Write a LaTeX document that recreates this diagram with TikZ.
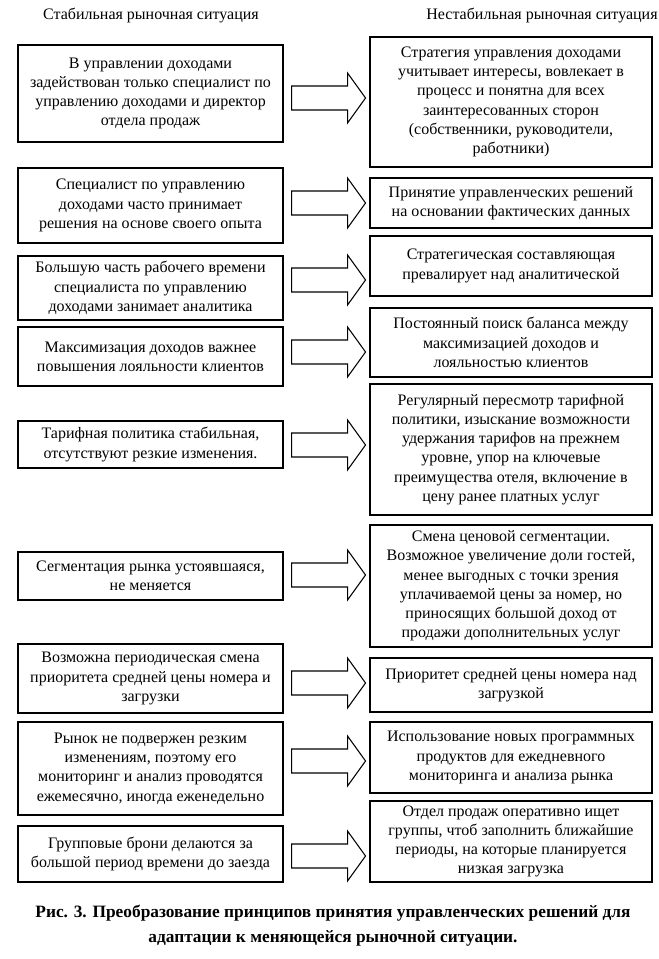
\documentclass[tikz,border=0pt]{standalone}
\usepackage{fontspec}
\setmainfont{Liberation Serif}
\usepackage{tikz}
\usetikzlibrary{calc}
\tikzset{
  lbox/.style={rectangle, draw=black, line width=0.8pt, align=center,
    minimum width=198.75pt, inner sep=2pt, font=\fontsize{12pt}{14.4pt}\selectfont},
  rbox/.style={lbox, minimum width=211.5pt},
  head/.style={font=\fontsize{12pt}{14.4pt}\selectfont},
  blockarrow/.style={draw=black, line width=0.8pt, line join=miter}
}
\begin{document}
\begin{tikzpicture}[x=0.75pt, y=-0.75pt]
  \useasboundingbox (0,0) rectangle (658,959);

  % column titles
  \node[head] (hl) at (151,16) {Стабильная рыночная ситуация};
  \node[head] (hr) at (542,16) {Нестабильная рыночная ситуация};

  % stable market
  \node[lbox, minimum height=72.75pt] (l1) at (150.5,93.5) {В управлении доходами\\задействован только специалист по\\управлению доходами и директор\\отдела продаж};
  \node[lbox, minimum height=56.25pt] (l2) at (150.5,205.5) {Специалист по управлению\\доходами часто принимает\\решения на основе своего опыта};
  \node[lbox, minimum height=48pt] (l3) at (150.5,288) {Большую часть рабочего времени\\специалиста по управлению\\доходами занимает аналитика};
  \node[lbox, minimum height=44.25pt] (l4) at (150.5,356.5) {Максимизация доходов важнее\\повышения лояльности клиентов};
  \node[lbox, minimum height=35.25pt] (l5) at (150.5,444.5) {Тарифная политика стабильная,\\отсутствуют резкие изменения.};
  \node[lbox, minimum height=36pt] (l6) at (150.5,576) {Сегментация рынка устоявшаяся,\\не меняется};
  \node[lbox, minimum height=51.75pt] (l7) at (150.5,678.5) {Возможна периодическая смена\\приоритета средней цены номера и\\загрузки};
  \node[lbox, minimum height=69.75pt] (l8) at (150.5,768.5) {Рынок не подвержен резким\\изменениям, поэтому его\\мониторинг и анализ проводятся\\ежемесячно, иногда еженедельно};
  \node[lbox, minimum height=42pt] (l9) at (150.5,854) {Групповые брони делаются за\\большой период времени до заезда};

  % unstable market
  \node[rbox, minimum height=97.5pt] (r1) at (511,102) {Стратегия управления доходами\\учитывает интересы, вовлекает в\\процесс и понятна для всех\\заинтересованных сторон\\(собственники, руководители,\\работники)};
  \node[rbox, minimum height=37.5pt] (r2) at (511,203) {Принятие управленческих решений\\на основании фактических данных};
  \node[rbox, minimum height=45pt] (r3) at (511,266) {Стратегическая составляющая\\превалирует над аналитической};
  \node[rbox, minimum height=51.75pt] (r4) at (511,342.5) {Постоянный поиск баланса между\\максимизацией доходов и\\лояльностью клиентов};
  \node[rbox, minimum height=98.25pt] (r5) at (511,449.5) {Регулярный пересмотр тарифной\\политики, изыскание возможности\\удержания тарифов на прежнем\\уровне, упор на ключевые\\преимущества отеля, включение в\\цену ранее платных услуг};
  \node[rbox, minimum height=91.5pt] (r6) at (511,586) {Смена ценовой сегментации.\\Возможное увеличение доли гостей,\\менее выгодных с точки зрения\\уплачиваемой цены за номер, но\\приносящих большой доход от\\продажи дополнительных услуг};
  \node[rbox, minimum height=40.5pt] (r7) at (511,685) {Приоритет средней цены номера над\\загрузкой};
  \node[rbox, minimum height=53.25pt] (r8) at (511,757.5) {Использование новых программных\\продуктов для ежедневного\\мониторинга и анализа рынка};
  \node[rbox, minimum height=60.75pt] (r9) at (511,841.5) {Отдел продаж оперативно ищет\\группы, чтоб заполнить ближайшие\\периоды, на которые планируется\\низкая загрузка};

  % block arrows
  \foreach \i/\y in {1/98, 2/203, 3/280, 4/352, 5/445, 6/575, 7/683, 8/761, 9/856}
    \draw[blockarrow] (l\i.east |- 0,\y) ++(8,-12) -- ++(56,0) -- ++(0,-13) -- ++(18,25)
      -- ++(-18,25) -- ++(0,-13) -- ++(-56,0) -- cycle;

  % caption
  \node[align=center, font=\bfseries\fontsize{13pt}{18.75pt}\selectfont] (cap) at (333,925.5)
    {Рис. 3. Преобразование принципов принятия управленческих решений для\\адаптации к меняющейся рыночной ситуации.};
\end{tikzpicture}
\end{document}
